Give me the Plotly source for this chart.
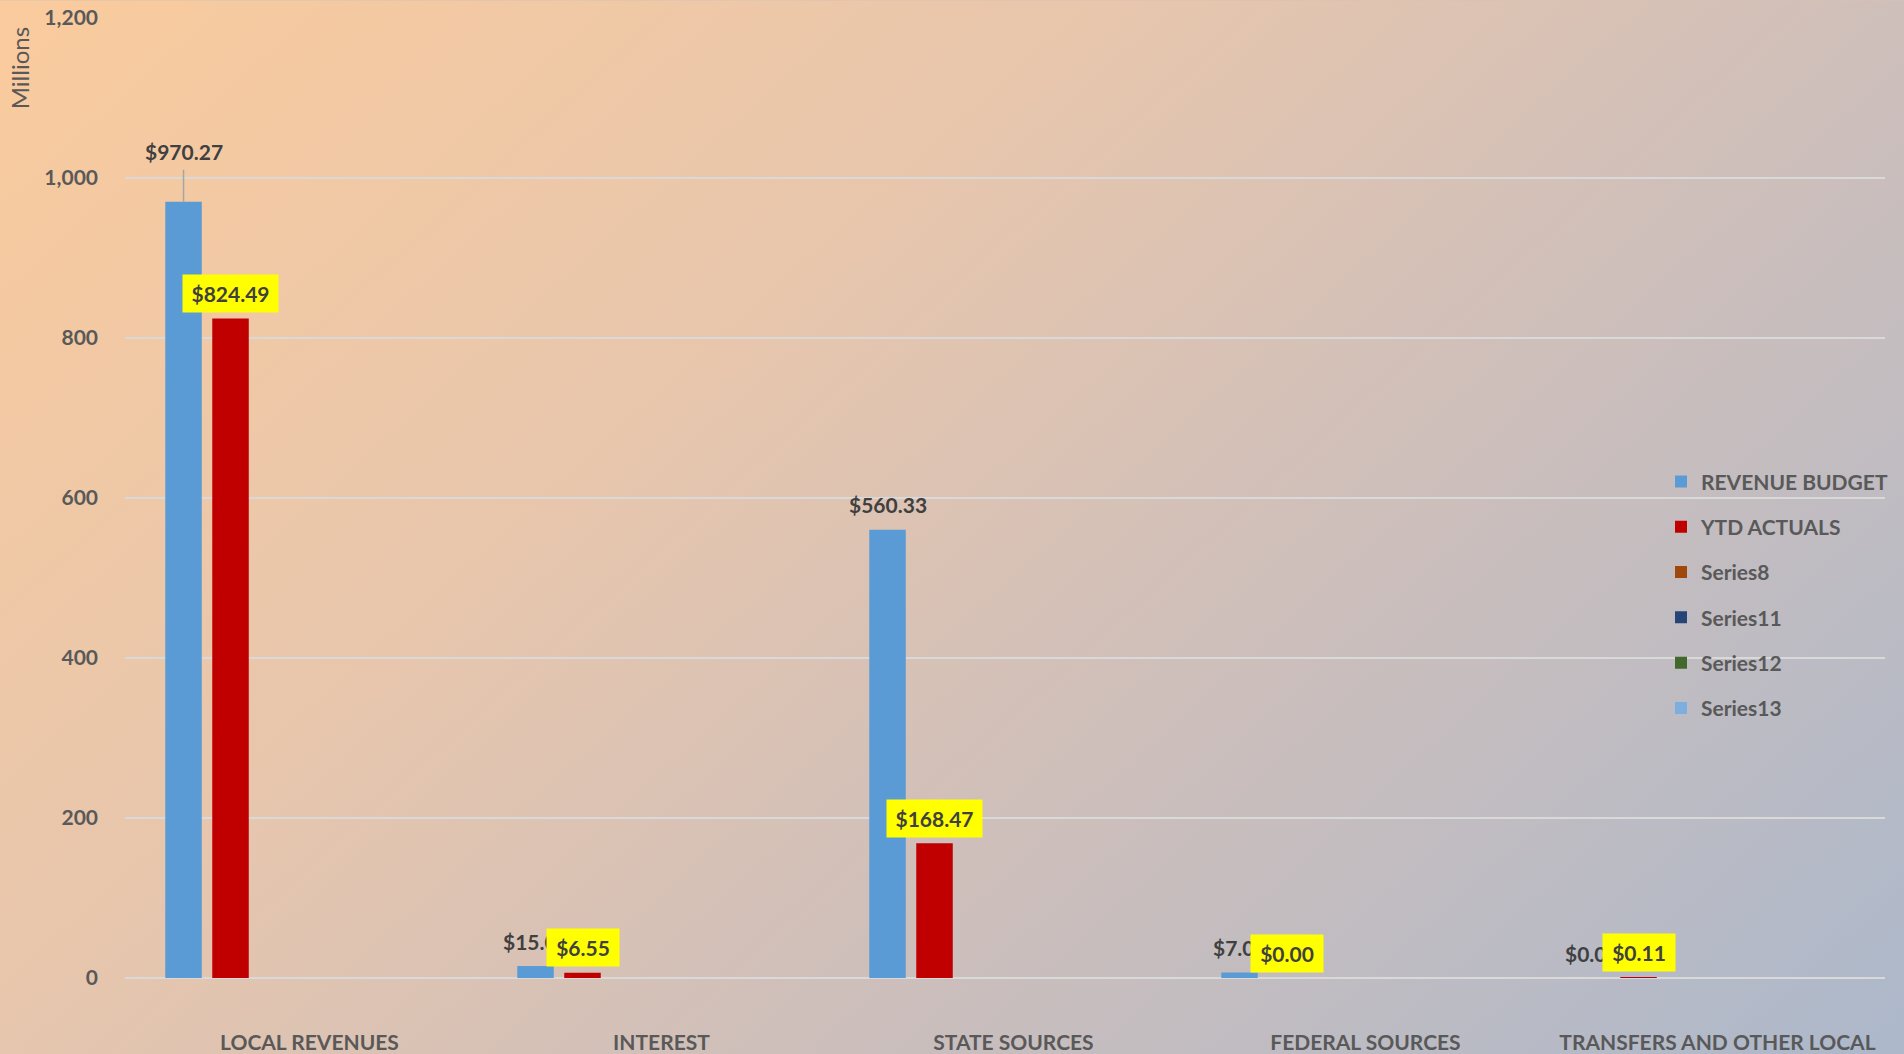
import base64
import plotly.graph_objects as go

# ---------------- data ----------------
categories = ["LOCAL REVENUES", "INTEREST", "STATE SOURCES", "FEDERAL SOURCES", "TRANSFERS AND OTHER LOCAL"]
revenue_budget = [970.27, 15.00, 560.33, 7.00, 0.00]
ytd_actuals = [824.49, 6.55, 168.47, 0.00, 0.11]
series8 = [None, None, None, None, None]
series11 = [None, None, None, None, None]
series12 = [None, None, None, None, None]
series13 = [None, None, None, None, None]
y_ticks = [0, 200, 400, 600, 800, 1000, 1200]

series_names = ["REVENUE BUDGET", "YTD ACTUALS", "Series8", "Series11", "Series12", "Series13"]
series_values = [revenue_budget, ytd_actuals, series8, series11, series12, series13]
series_colors = ["#5B9BD5", "#C00000", "#9E480E", "#264478", "#43682B", "#7CAFDD"]

# ---------------- style ----------------
FONT = "Lato, 'Open Sans', sans-serif"
FS = 21
LABEL_DARK = "#404040"
AXIS_GRAY = "#595959"
GRID = "#D9D9D9"
BARGAP = 0.199
BARGROUPGAP = 0.223
N_SERIES = len(series_names)
W, H = 1904, 1054
M_L, M_R, M_T, M_B = 125, 19, 17.7, 76.3
PLOT_W = W - M_L - M_R
PLOT_H = H - M_T - M_B

xpos = list(range(len(categories)))

fig = go.Figure()
for name, vals, col in zip(series_names, series_values, series_colors):
    fig.add_trace(go.Bar(
        x=xpos, y=vals, name=name, marker=dict(color=col, line=dict(width=0)),
        legendgroup=name, hoverinfo="skip",
    ))

# ---------------- data labels ----------------
slot = (1 - BARGAP) / N_SERIES
annotations = []
shapes = []
raised = {0: 25}  # extra lift (px) for the budget label with a leader line
for i, v in enumerate(revenue_budget):
    x = xpos[i] + (0 - (N_SERIES - 1) / 2) * slot
    extra = raised.get(i, 0)
    annotations.append(dict(
        x=x, y=v, xref="x", yref="y", text=f"${v:,.2f}", showarrow=False,
        yanchor="middle", xanchor="center", yshift=25 + extra,
        font=dict(family=FONT, size=FS, color=LABEL_DARK, weight="bold"),
    ))
    if extra:
        shapes.append(dict(
            type="line", xref="x", yref="y", ysizemode="pixel", yanchor=v,
            x0=x, x1=x, y0=0, y1=32, line=dict(color="#A6A6A6", width=1.5),
        ))
for i, v in enumerate(ytd_actuals):
    x = xpos[i] + (1 - (N_SERIES - 1) / 2) * slot
    txt = f"${v:,.2f}"
    annotations.append(dict(
        x=x, y=v, xref="x", yref="y", text=txt, showarrow=False,
        yanchor="middle", xanchor="center", yshift=25,
        bgcolor="#FFFF00", borderpad=0, width=11.5 * len(txt) + 14.5, height=37,
        font=dict(family=FONT, size=FS, color=LABEL_DARK, weight="bold"),
    ))

# axis unit label
annotations.append(dict(
    x=(19 - M_L) / PLOT_W, y=(H - M_B - 68) / PLOT_H, xref="paper", yref="paper",
    text="Millions", textangle=-90, showarrow=False, xanchor="center", yanchor="middle",
    font=dict(family=FONT, size=24, color=AXIS_GRAY),
))

# ---------------- background gradient ----------------
svg = f"""<svg xmlns='http://www.w3.org/2000/svg' width='{W}' height='{H}' viewBox='0 0 {W} {H}' preserveAspectRatio='none'>
<defs><linearGradient id='g' gradientUnits='userSpaceOnUse' x1='0' y1='0' x2='1379' y2='1527'>
<stop offset='0' stop-color='rgb(250,203,157)'/>
<stop offset='0.37' stop-color='rgb(231,198,173)'/>
<stop offset='0.62' stop-color='rgb(207,191,186)'/>
<stop offset='1' stop-color='rgb(172,184,203)'/>
</linearGradient></defs>
<rect x='0' y='0' width='{W}' height='{H}' fill='url(#g)'/></svg>"""
svg_uri = "data:image/svg+xml;base64," + base64.b64encode(svg.encode()).decode()

fig.update_layout(
    width=W, height=H,
    margin=dict(l=M_L, r=M_R, t=M_T, b=M_B, pad=0, autoexpand=False),
    paper_bgcolor="#D8C1B3",
    plot_bgcolor="rgba(0,0,0,0)",
    barmode="group", bargap=BARGAP, bargroupgap=BARGROUPGAP,
    font=dict(family=FONT, size=FS, color=AXIS_GRAY),
    images=[dict(
        source=svg_uri, xref="paper", yref="paper",
        x=-M_L / PLOT_W, y=1 + M_T / PLOT_H, sizex=W / PLOT_W, sizey=H / PLOT_H,
        xanchor="left", yanchor="top", sizing="stretch", layer="below",
    )],
    xaxis=dict(
        type="linear", range=[-0.5, len(categories) - 0.5], automargin=False,
        tickmode="array", tickvals=[p + 0.024 for p in xpos], ticktext=categories,
        showgrid=False, zeroline=False, showline=False, ticks="",
        ticklabelstandoff=50,
        tickfont=dict(family=FONT, size=FS, color=AXIS_GRAY, weight="bold"),
    ),
    yaxis=dict(
        range=[0, 1200], tickmode="array", tickvals=y_ticks, tickformat=",d", automargin=False,
        showgrid=True, gridcolor=GRID, gridwidth=2,
        zeroline=True, zerolinecolor=GRID, zerolinewidth=2,
        showline=False, ticks="", ticklabelstandoff=26,
        tickfont=dict(family=FONT, size=FS, color=AXIS_GRAY, weight="bold"),
    ),
    legend=dict(
        x=(1661 - M_L) / PLOT_W, y=(H - M_B - 461) / PLOT_H, xanchor="left", yanchor="top",
        bgcolor="rgba(0,0,0,0)", borderwidth=0, tracegroupgap=15,
        font=dict(family=FONT, size=FS, color=AXIS_GRAY, weight="bold"),
        itemclick=False, itemdoubleclick=False,
    ),
    annotations=annotations,
    shapes=shapes,
    showlegend=True,
)

fig.write_html("out.html")
